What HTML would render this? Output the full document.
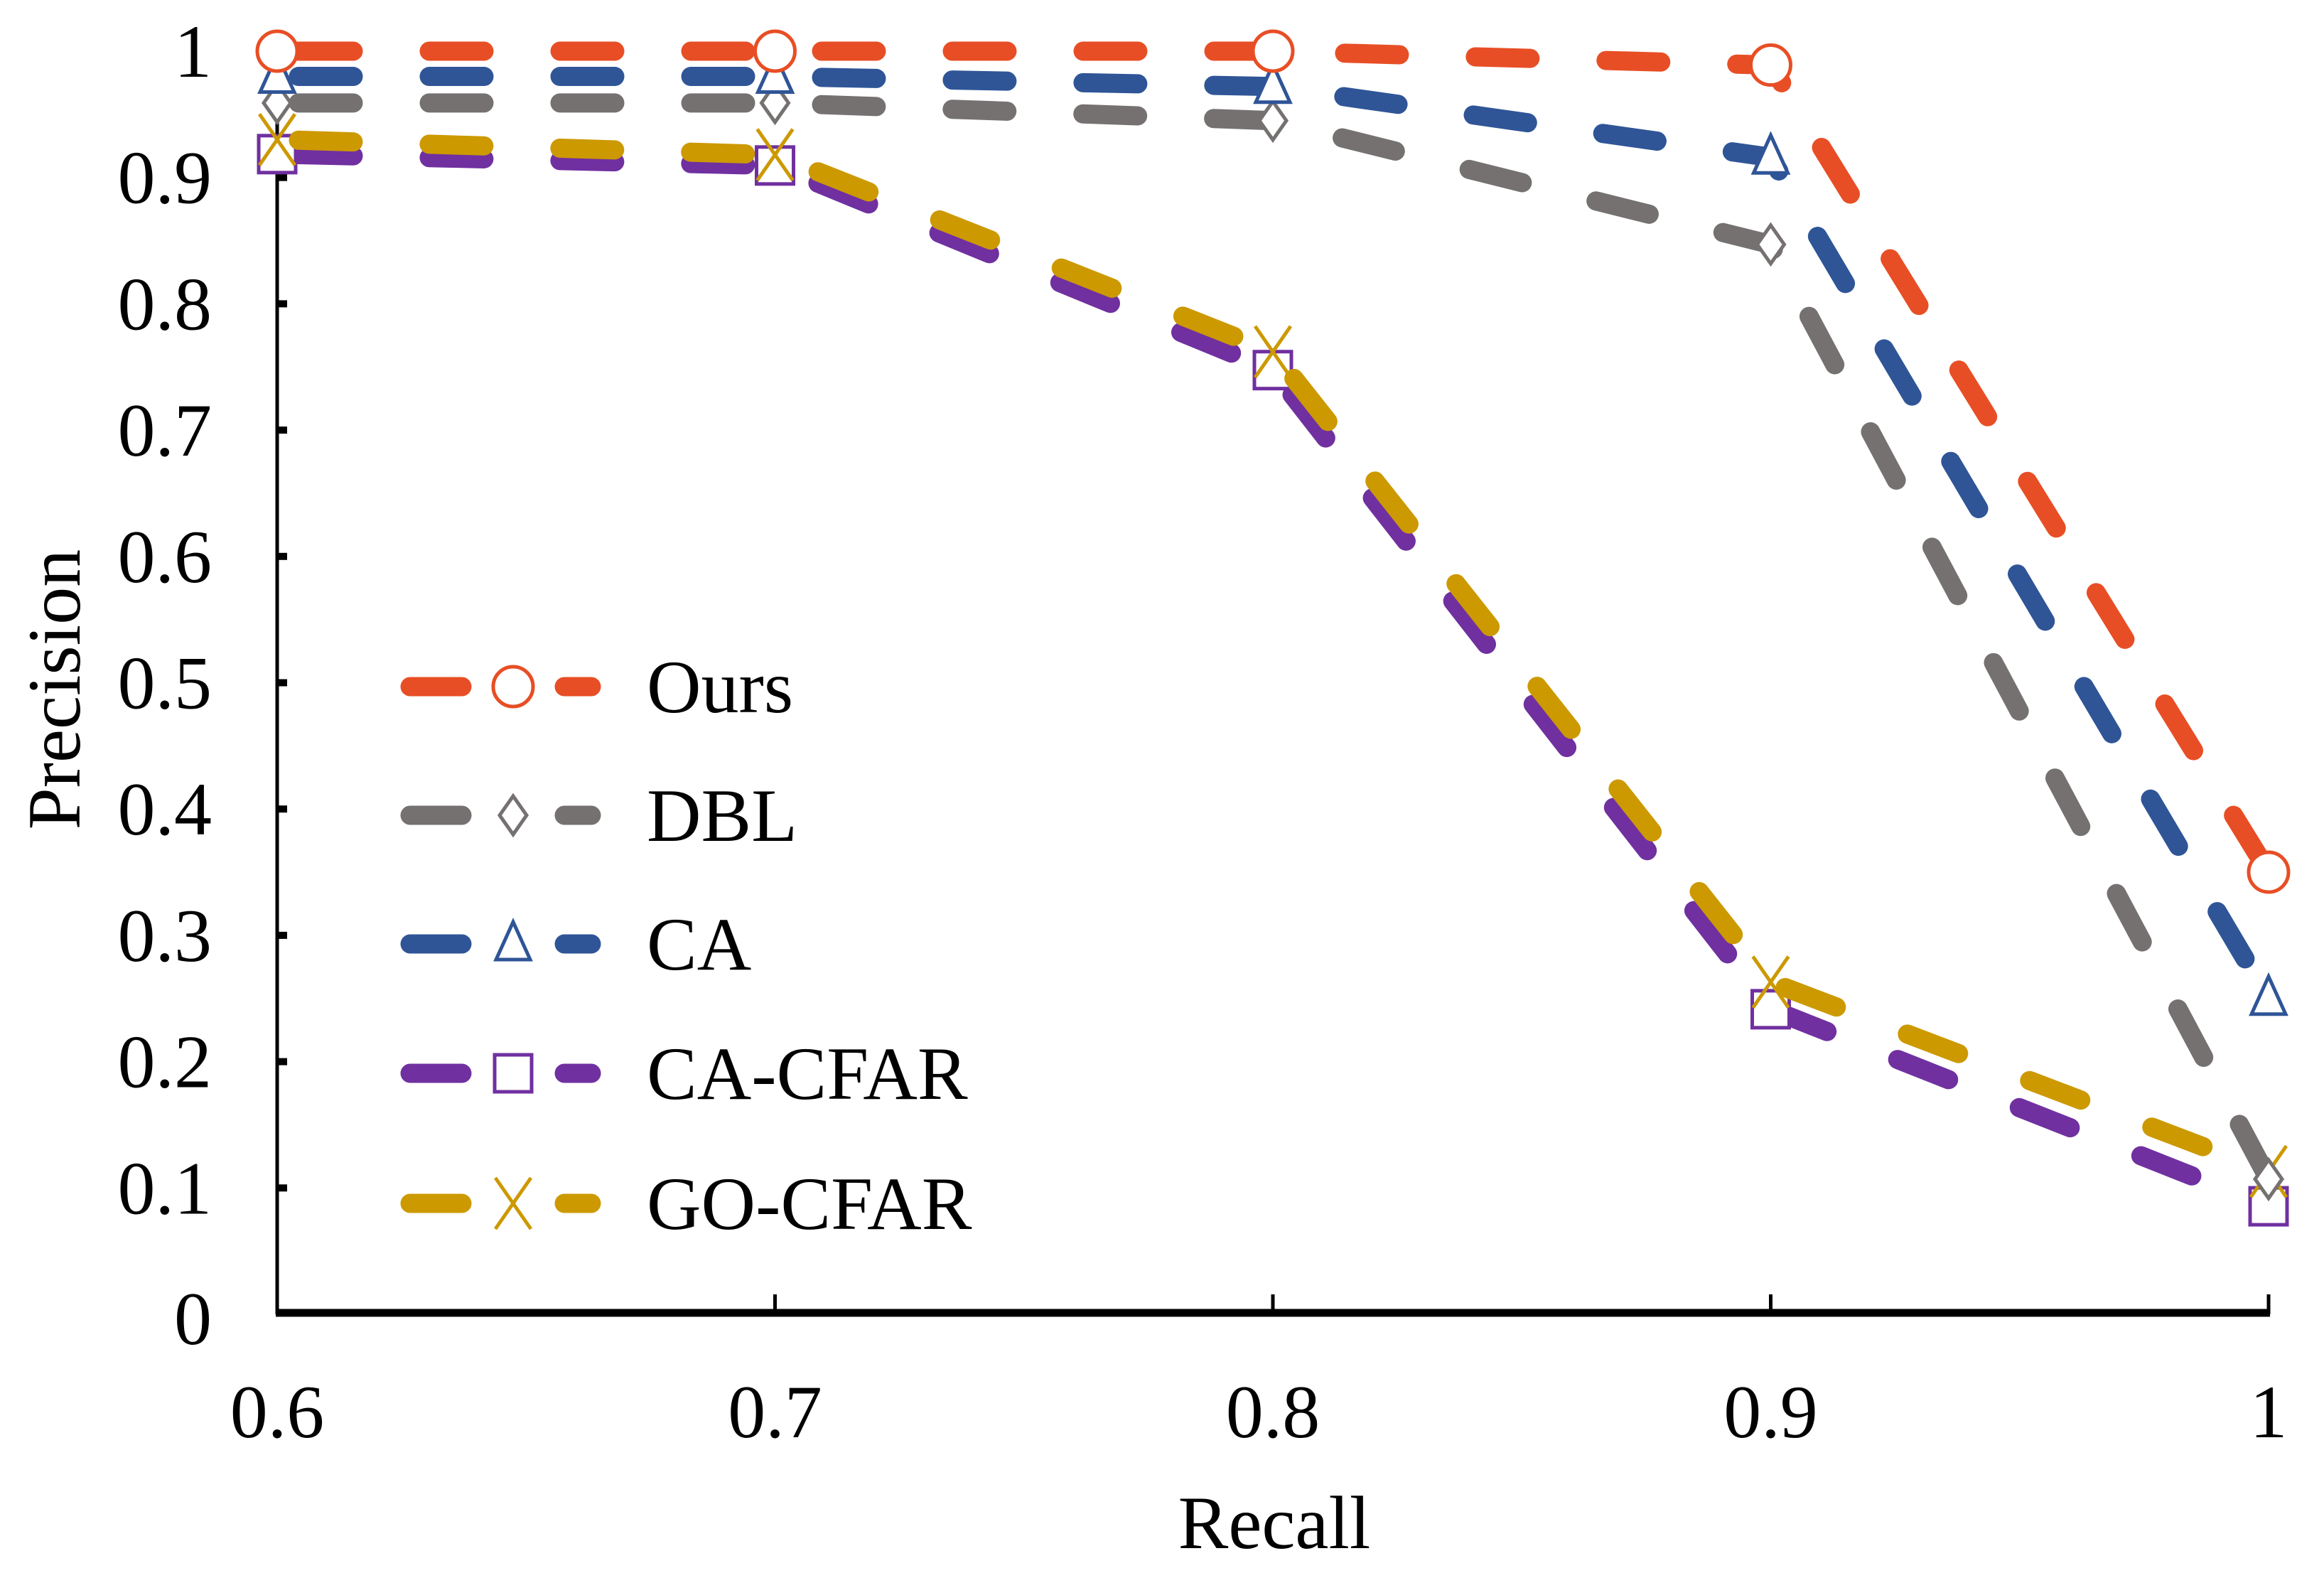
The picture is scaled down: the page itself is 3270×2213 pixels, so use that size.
<!DOCTYPE html>
<html><head><meta charset="utf-8"><style>
html,body{margin:0;padding:0;background:#fff;}
svg{display:block;font-family:"Liberation Serif",serif;}
</style></head><body>
<svg id="chart" width="3270" height="2213" viewBox="0 0 3270 2213">
<g id="axes"></g><g id="series"></g><g id="legend"></g>
<text x="1793" y="2178" font-size="106" text-anchor="middle">Recall</text>
<text transform="translate(112,970) rotate(-90)" font-size="106" text-anchor="middle">Precision</text>
</svg>
<script>
const recall = [0.6, 0.7, 0.8, 0.9, 1.0];
const oursValues = [1.0, 1.0, 1.0, 0.989, 0.35];
const dblValues = [0.959, 0.959, 0.945, 0.847, 0.107];
const caValues = [0.98, 0.98, 0.972, 0.916, 0.25];
const caCfarValues = [0.923, 0.914, 0.752, 0.246, 0.09];
const goCfarValues = [0.93, 0.918, 0.762, 0.263, 0.113];
const seriesNames = ["Ours", "DBL", "CA", "CA-CFAR", "GO-CFAR"];
const xTicks = [0.6, 0.7, 0.8, 0.9, 1.0];
const xTickLabels = ["0.6", "0.7", "0.8", "0.9", "1"];
const yTicks = [0, 0.1, 0.2, 0.3, 0.4, 0.5, 0.6, 0.7, 0.8, 0.9, 1.0];
const yTickLabels = ["0", "0.1", "0.2", "0.3", "0.4", "0.5", "0.6", "0.7", "0.8", "0.9", "1"];

const NS = "http://www.w3.org/2000/svg";
const X0 = 390, X1 = 3192, Y0 = 1849, Y1 = 72;
function xs(v){ return X0 + (v - 0.6) / 0.4 * (X1 - X0); }
function ys(v){ return Y0 - v * (Y0 - Y1); }
function mk(tag, attrs, parent){ const e = document.createElementNS(NS, tag); for (const k in attrs) e.setAttribute(k, attrs[k]); parent.appendChild(e); return e; }

const axes = document.getElementById('axes');
let yl = mk('line', {x1:X0, y1:Y1-20, x2:X0, y2:Y0, stroke:'#000', 'stroke-width':5}, axes);


let xl = mk('line', {x1:X0-2, y1:Y0-2, x2:X1+2, y2:Y0-2, stroke:'#000', 'stroke-width':11}, axes);


xTicks.forEach((t, i) => {
  const tk = mk('line', {x1:xs(t), y1:Y0, x2:xs(t), y2:Y0-28, stroke:'#000', 'stroke-width':5}, axes);
  
  
  const tx = mk('text', {x:xs(t), y:2022, 'font-size':106, 'text-anchor':'middle'}, axes);
  tx.textContent = xTickLabels[i];
  
  
});
yTicks.forEach((t, i) => {
  if (t > 0) {
    const tk = mk('line', {x1:X0, y1:ys(t), x2:X0+14, y2:ys(t), stroke:'#000', 'stroke-width':10}, axes);
    
    
  }
  const tx = mk('text', {x:298, y:ys(t)+ (t===0?42:36), 'font-size':106, 'text-anchor':'end'}, axes);
  tx.textContent = yTickLabels[i];
  
  
});

const colors = ['#e84e25', '#767171', '#2f5597', '#7030a0', '#cc9900'];
const markers = ['circle', 'diamond', 'triangle', 'square', 'cross'];
const data = [oursValues, dblValues, caValues, caCfarValues, goCfarValues];
const order = [3, 4, 1, 2, 0];

function marker(g, type, cx, cy, color){
  const sw = 5;
  if (type === 'circle') return mk('circle', {cx, cy, r:28, fill:'#fff', stroke:color, 'stroke-width':sw}, g);
  if (type === 'diamond') return mk('polygon', {points:`${cx},${cy-27} ${cx+19},${cy} ${cx},${cy+27} ${cx-19},${cy}`, fill:'#fff', stroke:color, 'stroke-width':sw}, g);
  if (type === 'triangle') return mk('polygon', {points:`${cx},${cy-31} ${cx+24},${cy+22} ${cx-24},${cy+22}`, fill:'#fff', stroke:color, 'stroke-width':sw}, g);
  if (type === 'square') return mk('rect', {x:cx-26, y:cy-26, width:52, height:52, fill:'#fff', stroke:color, 'stroke-width':sw}, g);
  return mk('path', {d:`M${cx-25},${cy-36} L${cx+25},${cy+36} M${cx+25},${cy-36} L${cx-25},${cy+36}`, fill:'none', stroke:color, 'stroke-width':5}, g);
}

const sg = document.getElementById('series');
order.forEach(si => {
  const g = mk('g', {}, sg);
  
  
  const off = si === 3 ? 8 : 0;
  const pts = recall.map((r, i) => `${xs(r)},${ys(data[si][i]) + off}`).join(' ');
  const line = mk('polyline', {points:pts, fill:'none', stroke:colors[si], 'stroke-width':27, 'stroke-linecap':'round', 'stroke-linejoin':'round', 'stroke-dasharray':'77 107', 'stroke-dashoffset':'-30'}, g);
  
  
  recall.forEach((r, i) => {
    const m = marker(g, markers[si], xs(r), ys(data[si][i]) + off, colors[si]);
    
    
  });
});

const lg = document.getElementById('legend');


const legendY = [966, 1147, 1328, 1510, 1693];
seriesNames.forEach((n, si) => {
  const g = mk('g', {}, lg);
  
  
  const y = legendY[si];
  mk('line', {x1:577, y1:y, x2:650, y2:y, stroke:colors[si], 'stroke-width':27, 'stroke-linecap':'round'}, g);
  mk('line', {x1:794, y1:y, x2:832, y2:y, stroke:colors[si], 'stroke-width':27, 'stroke-linecap':'round'}, g);
  marker(g, markers[si], 722, y, colors[si]);
  const t = mk('text', {x:910, y:y+36, 'font-size':106}, g);
  t.textContent = n;
  
  
});
</script>
</body></html>
